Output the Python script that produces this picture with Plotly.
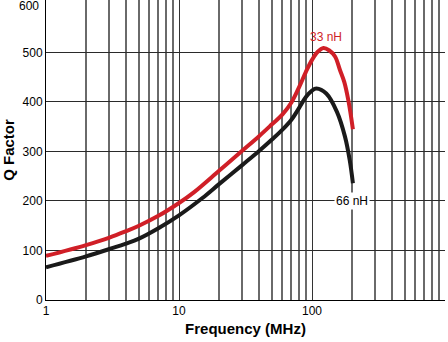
import math
import plotly.graph_objects as go

# Data
freq_33 = [1, 2, 3, 4, 5, 7, 10, 13, 20, 30, 40, 50, 60, 70, 80, 90, 100, 110, 122, 135, 149, 162, 175, 188, 203]
q_33 = [89, 111, 126, 139, 150, 170, 196, 218, 261, 302, 331, 355, 375, 399, 430, 461, 485, 501, 509, 504, 492, 465, 440, 402, 345]

freq_66 = [1, 2, 3, 4, 5, 7, 10, 15, 20, 30, 40, 50, 60, 70, 80, 90, 100, 108, 128, 154, 177, 192, 203]
q_66 = [66, 88, 103, 114, 124, 145, 171, 206, 234, 273, 301, 324, 344, 364, 388, 410, 423, 427, 417, 380, 330, 283, 236]

x_ticks = [1, 10, 100, 1000]
x_tick_labels = ["1", "10", "100", "1000"]
x_minor = [2, 3, 4, 5, 6, 7, 8, 9, 20, 30, 40, 50, 60, 70, 80, 90,
           200, 300, 400, 500, 600, 700, 800, 900]
y_ticks = [0, 100, 200, 300, 400, 500]
y_top_label = 600

label_33 = ("33 nH", 127, 531)
label_66 = ("66 nH", 200, 200)

FONT = "Liberation Sans, Arial, Helvetica, sans-serif"
RED = "#d01f27"
BLACK = "#1a1a1a"

fig = go.Figure()
fig.add_trace(go.Scatter(x=freq_66, y=q_66, mode="lines",
                         line=dict(color=BLACK, width=4, shape="spline", smoothing=1),
                         hoverinfo="skip"))
fig.add_trace(go.Scatter(x=freq_33, y=q_33, mode="lines",
                         line=dict(color=RED, width=4, shape="spline", smoothing=1),
                         hoverinfo="skip"))

fig.update_layout(
    width=448, height=342,
    margin=dict(l=46, r=3, t=0, b=42),
    paper_bgcolor="white", plot_bgcolor="white",
    showlegend=False,
    font=dict(family=FONT, size=12, color="black"),
    xaxis=dict(
        type="log", range=[0, 3],
        tickmode="array", tickvals=x_ticks, ticktext=x_tick_labels,
        showgrid=True, gridcolor="#333333", gridwidth=1.2,
        minor=dict(tickvals=x_minor, showgrid=True, gridcolor="#6a6a6a", gridwidth=1.5, ticks=""),
        showline=True, linecolor="black", linewidth=1,
        ticks="", zeroline=False, automargin=False,
        tickfont=dict(size=12, color="black"),
        title=dict(text="<b>Frequency (MHz)</b>", font=dict(size=15, color="black"), standoff=6),
    ),
    yaxis=dict(
        range=[0, 606],
        tickmode="array", tickvals=y_ticks,
        showgrid=True, gridcolor="#2a2a2a", gridwidth=1.2,
        showline=True, linecolor="black", linewidth=1,
        ticks="", zeroline=False, automargin=False,
        tickfont=dict(size=12, color="black"),
        title=dict(text="<b>Q Factor</b>", font=dict(size=15, color="black"), standoff=6),
    ),
    annotations=[
        dict(text=str(y_top_label), x=0, xref="paper", y=y_top_label, yref="y",
             xanchor="right", yanchor="middle", xshift=-5, yshift=-3, showarrow=False,
             font=dict(size=12, color="black")),
        dict(text=label_33[0], x=math.log10(label_33[1]), y=label_33[2], xref="x", yref="y",
             showarrow=False, font=dict(size=12, color=RED)),
        dict(text=label_66[0], x=math.log10(label_66[1]), y=label_66[2], xref="x", yref="y",
             showarrow=False, bgcolor="white", borderpad=1, font=dict(size=12, color="black")),
    ],
)

fig.write_html("out.html")
